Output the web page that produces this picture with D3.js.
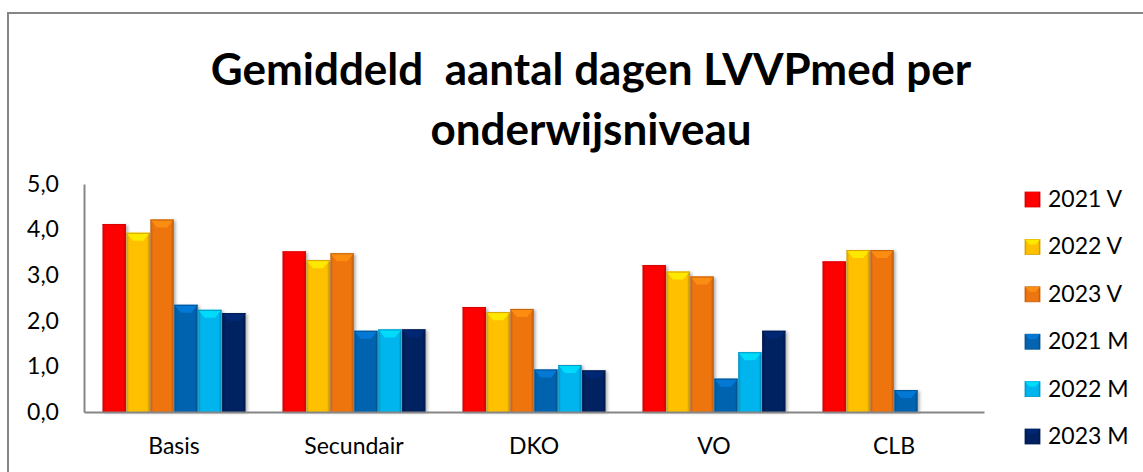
<!DOCTYPE html>
<html>
<head>
<meta charset="utf-8">
<script src="https://cdn.jsdelivr.net/npm/d3@7"></script>
<style>
  body { margin: 0; background: #fff; }
  svg text { font-family: Lato, "Open Sans", sans-serif; fill: #000; }
</style>
</head>
<body>
<div id="chart"></div>
<script>

// categories and series
let categories = ["Basis", "Secundair", "DKO", "VO", "CLB"];
let seriesNames = ["2021 V", "2022 V", "2023 V", "2021 M", "2022 M", "2023 M"];
let seriesColors = ["#ff0000", "#ffc000", "#ee7410", "#0563b0", "#00b4ee", "#002060"];

let v2021 = [4.12, 3.52, 2.30, 3.22, 3.30];
let v2022 = [3.93, 3.33, 2.19, 3.08, 3.55];
let v2023 = [4.22, 3.48, 2.26, 2.97, 3.55];
let m2021 = [2.35, 1.78, 0.93, 0.73, 0.48];
let m2022 = [2.24, 1.81, 1.03, 1.31, null];
let m2023 = [2.17, 1.81, 0.91, 1.78, null];

let yTicks = [0, 1, 2, 3, 4, 5];

let allSeries = [v2021, v2022, v2023, m2021, m2022, m2023];

let svgWidth = 1143;
let svgHeight = 472;

let margin = { top: 184, left: 84, right: 159, bottom: 60 };
let width = svgWidth - margin.left - margin.right;   // 900
let height = 412 - margin.top;

let svg = d3.select("#chart")
    .append("svg")
    .attr("width", svgWidth)
    .attr("height", svgHeight);

let defs = svg.append("defs");

// bevel gradients per colour
seriesColors.forEach((c, i) => {
    let base = d3.color(c);
    let g = defs.append("linearGradient")
        .attr("id", "grad" + i)
        .attr("x1", "0").attr("x2", "1").attr("y1", "0").attr("y2", "0");
    g.append("stop").attr("offset", "0%").attr("stop-color", base.darker(0.6));
    g.append("stop").attr("offset", "12%").attr("stop-color", base);
    g.append("stop").attr("offset", "88%").attr("stop-color", base);
    g.append("stop").attr("offset", "100%").attr("stop-color", base.darker(0.8));
});

let shadow = defs.append("filter").attr("id", "shadow")
    .attr("x", "-20%").attr("y", "-10%").attr("width", "150%").attr("height", "130%");
shadow.append("feDropShadow")
    .attr("dx", 2).attr("dy", 1).attr("stdDeviation", 1.5)
    .attr("flood-color", "#000").attr("flood-opacity", 0.3);

// outer frame
svg.append("rect")
    .attr("x", 8).attr("y", 13)
    .attr("width", 1150).attr("height", 480)
    .attr("fill", "none")
    .attr("stroke", "#868686")
    .attr("stroke-width", 2);

// title
let title = svg.append("text")
    .attr("text-anchor", "middle")
    .attr("font-weight", "bold")
    .attr("font-size", "44px")
    .style("white-space", "pre");
title.append("tspan").attr("x", 591).attr("y", 85).text("Gemiddeld  aantal dagen LVVPmed per");
title.append("tspan").attr("x", 591).attr("y", 145).text("onderwijsniveau");

let chartGroup = svg.append("g")
    .attr("transform", `translate(${margin.left}, ${margin.top})`);

let x0 = d3.scaleBand()
    .domain(categories)
    .range([0, width])
    .paddingInner(0.2)
    .paddingOuter(0.1);

let x1 = d3.scaleBand()
    .domain(d3.range(seriesNames.length))
    .range([0, x0.bandwidth()])
    .padding(0.02);

let yLinearScale = d3.scaleLinear()
    .domain([0, 5])
    .range([height, 0]);

let leftAxis = d3.axisLeft(yLinearScale)
    .tickValues(yTicks)
    .tickSize(0)
    .tickPadding(12)
    .tickFormat(d => d3.format(".1f")(d).replace(".", ","));

let bottomAxis = d3.axisBottom(x0)
    .tickSize(0)
    .tickPadding(26);

// bars
let groups = chartGroup.selectAll(".cat")
    .data(categories)
    .enter()
    .append("g")
    .attr("class", "cat")
    .attr("transform", d => `translate(${x0(d)}, 0)`);

groups.each(function(cat, ci) {
    let g = d3.select(this);
    allSeries.forEach((vals, si) => {
        let v = vals[ci];
        if (v == null) return;
        let bx = x1(si);
        let bw = x1.bandwidth();
        let by = yLinearScale(v);
        let bh = yLinearScale(0) - by;
        g.append("rect")
            .attr("x", bx).attr("y", by)
            .attr("width", bw).attr("height", bh)
            .attr("fill", `url(#grad${si})`)
            .attr("filter", "url(#shadow)");
        // top bevel highlight
        let light = d3.color(seriesColors[si]).brighter(0.7);
        g.append("path")
            .attr("d", `M${bx},${by} L${bx + bw},${by} L${bx + bw * 0.72},${by + 8} L${bx + bw * 0.28},${by + 8} Z`)
            .attr("fill", light)
            .attr("opacity", 0.75);
        g.append("line")
            .attr("x1", bx).attr("x2", bx + bw)
            .attr("y1", by + 0.5).attr("y2", by + 0.5)
            .attr("stroke", d3.color(seriesColors[si]).darker(0.5))
            .attr("stroke-width", 1);
    });
});

let yAxis = chartGroup.append("g")
    .classed("y-axis", true)
    .call(leftAxis);

yAxis.select(".domain").attr("stroke", "#868686").attr("stroke-width", 2);
yAxis.selectAll("text")
    .attr("font-size", "23px")
    .attr("x", -41)
    .attr("text-anchor", "middle");

let xAxis = chartGroup.append("g")
    .classed("x-axis", true)
    .attr("transform", `translate(0, ${height})`)
    .call(bottomAxis);

xAxis.select(".domain").attr("stroke", "#868686").attr("stroke-width", 2);
xAxis.selectAll("text").attr("font-size", "23px");

// legend
let legend = svg.append("g")
    .attr("transform", "translate(1025, 199)");

let items = legend.selectAll(".item")
    .data(seriesNames)
    .enter()
    .append("g")
    .attr("class", "item")
    .attr("transform", (d, i) => `translate(0, ${i * 47.4})`);

items.append("rect")
    .attr("x", 0).attr("y", -7)
    .attr("width", 15).attr("height", 15)
    .attr("fill", (d, i) => `url(#grad${i})`)
    .attr("stroke", (d, i) => d3.color(seriesColors[i]).darker(0.5))
    .attr("stroke-width", 0.8);

items.append("path")
    .attr("d", "M0,-7 L15,-7 L11,-2 L4,-2 Z")
    .attr("fill", (d, i) => d3.color(seriesColors[i]).brighter(0.7))
    .attr("opacity", 0.75);

items.append("text")
    .attr("x", 23)
    .attr("y", 0)
    .attr("dy", "0.35em")
    .attr("font-size", "23px")
    .text(d => d);

</script>
</body>
</html>
